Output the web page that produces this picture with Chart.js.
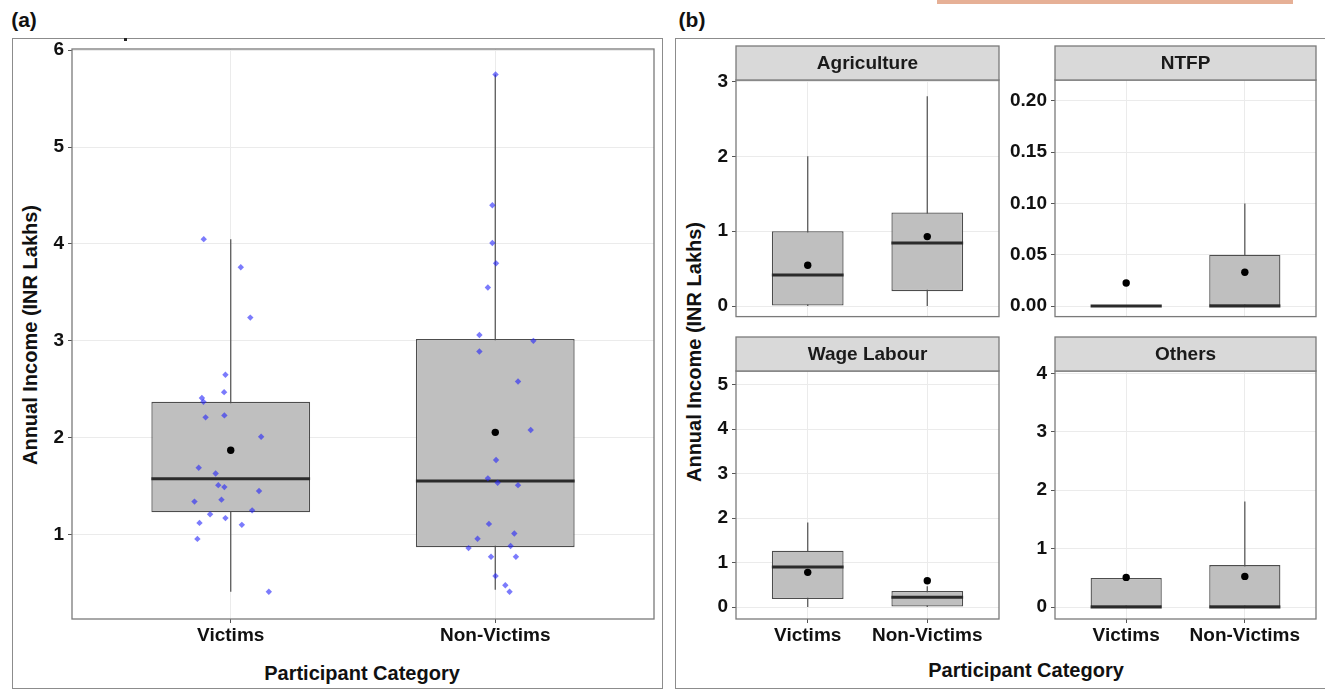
<!DOCTYPE html>
<html lang="en">
<head>
  <meta charset="UTF-8">
  <title>Annual income by participant category</title>
  <script src="https://cdn.jsdelivr.net/npm/chart.js"></script>
  <style>
    body {
      margin: 0;
      background: #fff;
      font-family: 'Liberation Sans', Arial, sans-serif;
    }
    #page {
      position: relative;
      width: 1325px;
      height: 689px;
      overflow: hidden;
    }
    .frame {
      position: absolute;
      border: 1.5px solid #8c8c8c;
      box-sizing: border-box;
    }
    .lbl {
      position: absolute;
      font-weight: bold;
      color: #111;
      white-space: nowrap;
      line-height: 1;
      transform: translate(-50%, -50%);
    }
    .lbl.rot { transform: translate(-50%, -50%) rotate(-90deg); }
    canvas { position: absolute; }
  </style>
</head>
<body>
<div id="page">
  <div style="position:absolute;left:937px;top:0;width:356px;height:4px;background:#e6b096"></div>
  <div class="frame" style="left:12px;top:38px;width:651px;height:651px"></div>
  <div class="frame" style="left:675px;top:38px;width:652px;height:651px"></div>
  <div style="position:absolute;left:124px;top:38px;width:3px;height:3px;background:#222"></div>

  <div class="lbl" style="left:24px;top:19px;font-size:21px">(a)</div>
  <div class="lbl" style="left:692px;top:19px;font-size:21px">(b)</div>
  <div class="lbl rot" style="left:30px;top:335px;font-size:20px">Annual Income (INR Lakhs)</div>
  <div class="lbl" style="left:362px;top:673px;font-size:20px">Participant Category</div>
  <div class="lbl rot" style="left:694px;top:352px;font-size:20px">Annual Income (INR Lakhs)</div>
  <div class="lbl" style="left:1026px;top:670px;font-size:20px">Participant Category</div>

  <canvas id="total" width="648" height="657" style="left:13px;top:30px"></canvas>
  <canvas id="agri" width="323" height="288" style="left:680px;top:44px"></canvas>
  <canvas id="ntfp" width="321" height="288" style="left:999px;top:44px"></canvas>
  <canvas id="wage" width="323" height="315" style="left:680px;top:335px"></canvas>
  <canvas id="others" width="321" height="315" style="left:999px;top:335px"></canvas>
</div>

<script>
  const categories = ['Victims', 'Non-Victims'];

  // (a) individual incomes (x = jittered position)
  const victimsIncome = [4.05, 3.76, 3.24, 2.65, 2.47, 2.41, 2.37, 2.21, 2.23, 2.01, 1.69, 1.63,
                         1.51, 1.49, 1.45, 1.34, 1.36, 1.25, 1.21, 1.17, 1.12, 1.10, 0.955, 0.41];
  const victimsX = [0.898, 1.038, 1.074, 0.980, 0.975, 0.891, 0.897, 0.905, 0.976, 1.115, 0.879, 0.943,
                    0.953, 0.976, 1.107, 0.863, 0.965, 1.081, 0.922, 0.980, 0.882, 1.042, 0.874, 1.144];
  const nonVictimsIncome = [5.75, 4.40, 4.01, 3.80, 3.55, 3.06, 3.00, 2.89, 2.58, 2.08, 1.77, 1.58,
                            1.535, 1.51, 1.11, 1.01, 0.956, 0.882, 0.86, 0.771, 0.771, 0.572, 0.476, 0.41];
  const nonVictimsX = [2.001, 1.989, 1.989, 2.003, 1.972, 1.940, 2.144, 1.940, 2.086, 2.134, 2.003, 1.972,
                       2.009, 2.086, 1.976, 2.072, 1.933, 2.058, 1.899, 1.984, 2.078, 2.001, 2.038, 2.054];

  // box stats per category: [lower whisker, q1, median, q3, upper whisker]
  const totalBoxes = [[0.41, 1.23, 1.575, 2.37, 4.05], [0.43, 0.87, 1.553, 3.02, 5.75]];
  const totalMeans = [1.87, 2.055];
  const totalTicks = [1, 2, 3, 4, 5, 6];
  const totalRange = [0.128, 6.013];

  // (b) income by source
  const agriBoxes = [[0, 0, 0.415, 1.0, 2.0], [0, 0.2, 0.843, 1.25, 2.8]];
  const agriMeans = [0.546, 0.928];
  const agriTicks = [0, 1, 2, 3];
  const agriRange = [-0.14, 3.018];

  const ntfpBoxes = [[0, 0, 0, 0, 0], [0, 0, 0, 0.05, 0.10]];
  const ntfpMeans = [0.0225, 0.033];
  const ntfpTicks = [0, 0.05, 0.10, 0.15, 0.20];
  const ntfpRange = [-0.0102, 0.2201];

  const wageBoxes = [[0, 0.18, 0.90, 1.267, 1.90], [0, 0, 0.217, 0.36, 0.465]];
  const wageMeans = [0.78, 0.59];
  const wageTicks = [0, 1, 2, 3, 4, 5];
  const wageRange = [-0.27, 5.31];

  const otherBoxes = [[0, 0, 0, 0.496, 0.496], [0, 0, 0, 0.718, 1.806]];
  const otherMeans = [0.507, 0.524];
  const otherTicks = [0, 1, 2, 3, 4];
  const otherRange = [-0.205, 4.04];

  const FONT = "'Liberation Sans', Arial, sans-serif";
  const tickFont = { family: FONT, size: 19, weight: 'bold' };

  function boxPlugin(boxes, strip) {
    return {
      id: 'boxplot',
      beforeDatasetsDraw(chart) {
        const { ctx, scales: { x, y } } = chart;
        ctx.save();
        ctx.strokeStyle = '#5a5a5a';
        ctx.lineWidth = 1.3;
        boxes.forEach((b, i) => {
          const px = x.getPixelForValue(i + 1);
          ctx.beginPath();
          ctx.moveTo(px, y.getPixelForValue(b[0]));
          ctx.lineTo(px, y.getPixelForValue(b[4]));
          ctx.stroke();
        });
        ctx.restore();
      },
      afterDatasetDraw(chart, args) {
        if (args.index !== 0) return;
        const { ctx, scales: { y } } = chart;
        ctx.save();
        ctx.strokeStyle = '#2b2b2b';
        ctx.lineWidth = 3;
        args.meta.data.forEach((bar, i) => {
          const m = y.getPixelForValue(boxes[i][2]);
          ctx.beginPath();
          ctx.moveTo(bar.x - bar.width / 2, m);
          ctx.lineTo(bar.x + bar.width / 2, m);
          ctx.stroke();
        });
        ctx.restore();
      },
      afterDatasetsDraw(chart) {
        const { ctx, chartArea: a } = chart;
        ctx.save();
        ctx.strokeStyle = '#7a7a7a';
        ctx.lineWidth = 1.3;
        ctx.strokeRect(a.left, a.top, a.right - a.left, a.bottom - a.top);
        if (strip) {
          const h = 34;
          ctx.fillStyle = '#d9d9d9';
          ctx.fillRect(a.left, a.top - h, a.right - a.left, h);
          ctx.strokeRect(a.left, a.top - h, a.right - a.left, h);
          ctx.fillStyle = '#1a1a1a';
          ctx.font = 'bold 19px ' + FONT;
          ctx.textAlign = 'center';
          ctx.textBaseline = 'middle';
          ctx.fillText(strip, (a.left + a.right) / 2, a.top - h / 2 + 1);
        }
        ctx.restore();
      }
    };
  }

  function boxChart(id, o) {
    const datasets = [{
      type: 'bar',
      data: o.boxes.map((b, i) => ({ x: i + 1, y: [b[1], b[3]] })),
      backgroundColor: '#bfbfbf',
      borderColor: '#4d4d4d',
      borderWidth: 1.3,
      borderSkipped: false,
      categoryPercentage: 0.6,
      barPercentage: 1,
      order: 3
    }];
    (o.points || []).forEach(p => {
      datasets.push({
        type: 'scatter',
        data: p.y.map((v, k) => ({ x: p.x[k], y: v })),
        pointStyle: 'rectRot',
        pointRadius: 3.2,
        backgroundColor: 'rgba(35,35,250,0.6)',
        borderWidth: 0,
        order: 2
      });
    });
    datasets.push({
      type: 'scatter',
      data: o.means.map((m, i) => ({ x: i + 1, y: m })),
      pointRadius: 3.7,
      backgroundColor: '#000',
      borderWidth: 0,
      order: 1
    });

    return new Chart(document.getElementById(id), {
      type: 'bar',
      data: { datasets },
      plugins: [boxPlugin(o.boxes, o.strip)],
      options: {
        responsive: false,
        animation: false,
        events: [],
        layout: { padding: o.pad },
        plugins: { legend: { display: false }, tooltip: { enabled: false } },
        scales: {
          x: {
            type: 'linear',
            min: 0.4,
            max: 2.6,
            bounds: 'data',
            offset: false,
            afterBuildTicks: s => { s.ticks = categories.map((c, i) => ({ value: i + 1 })); },
            afterFit: s => { s.height = o.xH; },
            ticks: {
              display: o.showX,
              callback: v => categories[Math.round(v) - 1],
              font: tickFont,
              color: '#111',
              padding: 1,
              maxRotation: 0,
              autoSkip: false
            },
            grid: { color: '#ebebeb', offset: false, drawTicks: o.showX, tickLength: 4, tickColor: '#555' },
            border: { display: false }
          },
          y: {
            type: 'linear',
            min: o.range[0],
            max: o.range[1],
            bounds: 'data',
            afterBuildTicks: s => { s.ticks = o.ticks.map(v => ({ value: v })); },
            afterFit: s => { s.width = o.yW; },
            ticks: {
              callback: v => v.toFixed(o.dec || 0),
              font: tickFont,
              color: '#111',
              padding: 4
            },
            grid: { color: '#ebebeb', tickLength: 4, tickColor: '#555' },
            border: { display: false }
          }
        }
      }
    });
  }

  boxChart('total', {
    boxes: totalBoxes, means: totalMeans, ticks: totalTicks, range: totalRange,
    points: [{ x: victimsX, y: victimsIncome }, { x: nonVictimsX, y: nonVictimsIncome }],
    pad: { top: 19, right: 7, bottom: 0, left: 0 }, yW: 59, xH: 68, showX: true
  });
  boxChart('agri', {
    boxes: agriBoxes, means: agriMeans, ticks: agriTicks, range: agriRange, strip: 'Agriculture',
    pad: { top: 36, right: 4, bottom: 2, left: 0 }, yW: 56, xH: 2, showX: false
  });
  boxChart('ntfp', {
    boxes: ntfpBoxes, means: ntfpMeans, ticks: ntfpTicks, range: ntfpRange, strip: 'NTFP', dec: 2,
    pad: { top: 36, right: 4, bottom: 2, left: 0 }, yW: 56, xH: 2, showX: false
  });
  boxChart('wage', {
    boxes: wageBoxes, means: wageMeans, ticks: wageTicks, range: wageRange, strip: 'Wage Labour',
    pad: { top: 36, right: 4, bottom: 0, left: 0 }, yW: 56, xH: 31, showX: true
  });
  boxChart('others', {
    boxes: otherBoxes, means: otherMeans, ticks: otherTicks, range: otherRange, strip: 'Others',
    pad: { top: 36, right: 4, bottom: 0, left: 0 }, yW: 56, xH: 31, showX: true
  });
</script>
</body>
</html>
